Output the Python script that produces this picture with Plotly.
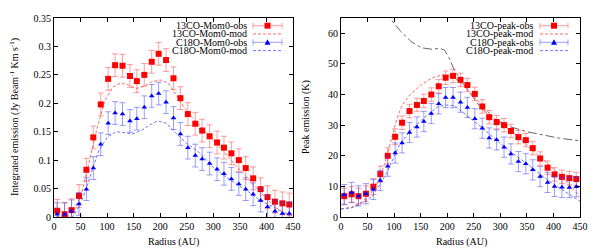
import plotly.graph_objects as go

# ---------------- data ----------------
radius = [6, 20, 33, 47, 61, 74, 88, 102, 115, 129, 143, 156, 170, 184, 197, 211, 225,
          238, 252, 266, 279, 293, 307, 320, 334, 348, 361, 375, 389, 402, 416, 430, 443]

co13_mom0_obs = [0.011, 0.005, 0.012, 0.037, 0.083, 0.140, 0.198, 0.243, 0.267, 0.266, 0.248,
                 0.239, 0.250, 0.273, 0.287, 0.276, 0.244, 0.209, 0.181, 0.164, 0.152, 0.142,
                 0.131, 0.122, 0.112, 0.100, 0.086, 0.068, 0.049, 0.035, 0.027, 0.024, 0.022]
co13_mom0_err = [0.02] * 33
c18o_mom0_obs = [0.005, 0.005, 0.010, 0.023, 0.049, 0.086, 0.128, 0.165, 0.183, 0.181, 0.169,
                 0.173, 0.193, 0.213, 0.217, 0.202, 0.174, 0.146, 0.122, 0.108, 0.102, 0.094,
                 0.084, 0.076, 0.067, 0.058, 0.049, 0.040, 0.029, 0.018, 0.010, 0.006, 0.006]
c18o_mom0_err = [0.02] * 33

mod13_mom0_r = [5, 22, 35, 50, 65, 80, 95, 110, 125, 140, 155, 170, 185, 200, 215, 230, 245,
                260, 280, 300, 320, 340, 360, 380, 400, 420, 440, 450]
mod13_mom0 = [0.0, 0.0, 0.008, 0.035, 0.092, 0.152, 0.203, 0.228, 0.236, 0.232, 0.226, 0.230,
              0.238, 0.241, 0.236, 0.215, 0.193, 0.175, 0.155, 0.135, 0.115, 0.093, 0.073,
              0.052, 0.032, 0.015, 0.005, 0.002]
mod18_mom0_r = [5, 35, 48, 60, 72, 85, 101, 117, 135, 148, 164, 180, 195, 211, 230, 249, 274,
                299, 330, 362, 390, 413, 430, 445]
mod18_mom0 = [0.0, 0.0, 0.02, 0.047, 0.083, 0.118, 0.141, 0.150, 0.148, 0.146, 0.152, 0.162,
              0.169, 0.165, 0.147, 0.130, 0.113, 0.088, 0.066, 0.047, 0.028, 0.018, 0.008, 0.002]

co13_peak_obs = [6.8, 7.4, 6.8, 7.6, 9.9, 14.0, 20.0, 26.2, 30.8, 34.6, 36.6, 37.9, 40.0, 42.7,
                 45.5, 46.1, 44.8, 43.1, 40.2, 36.1, 32.6, 31.0, 30.0, 28.1, 26.1, 25.1, 22.5,
                 19.1, 16.1, 13.9, 13.1, 12.7, 12.4]
co13_peak_err = [2.6] * 8 + [2.2] * 25
c18o_peak_obs = [7.3, 8.0, 6.9, 7.6, 9.0, 11.9, 16.6, 20.9, 24.2, 27.6, 29.4, 31.2, 33.8, 37.0,
                 39.0, 39.0, 37.5, 35.8, 32.1, 29.0, 25.8, 25.2, 22.8, 20.6, 18.1, 17.4, 15.4,
                 13.2, 11.3, 10.0, 9.7, 9.6, 9.9]
c18o_peak_err = [3.3] * 33

mod13_peak_r = [0, 20, 40, 55, 65, 75, 85, 95, 105, 115, 130, 150, 170, 190, 200, 215, 230,
                250, 270, 290, 318, 350, 381, 412, 435, 450]
mod13_peak = [2.6, 3.2, 5.0, 7.5, 10.0, 13.5, 19.0, 26.0, 32.0, 36.5, 40.0, 43.0, 45.3, 46.4,
              46.4, 45.3, 43.0, 39.5, 35.5, 32.0, 28.5, 23.5, 18.7, 13.8, 9.5, 6.7]
mod18_peak_r = [0, 20, 34, 59, 85, 100, 110, 132, 157, 182, 198, 214, 232, 251, 267, 300, 330,
                360, 390, 420, 450]
mod18_peak = [2.6, 3.0, 4.0, 6.7, 14.0, 20.0, 23.5, 28.5, 32.5, 36.0, 36.6, 36.3, 33.9, 31.2,
              29.0, 24.0, 20.0, 16.0, 12.0, 8.5, 5.1]

extra_r = [85, 92, 113, 132, 151, 170, 186, 195, 204, 212, 224, 245, 264, 286, 318, 349, 381,
           412, 450]
extra_peak = [67.5, 65.0, 60.5, 57.3, 55.3, 54.8, 55.1, 54.5, 51.8, 48.5, 45.0, 40.2, 35.5,
              32.3, 29.5, 27.9, 26.8, 25.7, 24.9]

left_xticks = [0, 50, 100, 150, 200, 250, 300, 350, 400, 450]
left_yticks = [0, 0.05, 0.1, 0.15, 0.2, 0.25, 0.3, 0.35]
right_yticks = [0, 10, 20, 30, 40, 50, 60]

legend_left = ["13CO-Mom0-obs", "13CO-Mom0-mod", "C18O-Mom0-obs", "C18O-Mom0-mod"]
legend_right = ["13CO-peak-obs", "13CO-peak-mod", "C18O-peak-obs", "C18O-peak-mod"]

# ---------------- style ----------------
OFF = 8                      # default page body margin
W, H = 598 - OFF, 250 - OFF
RED = "#ff0000"
RED_ERR = "rgba(255,60,60,0.5)"
RED_MOD = "rgba(255,80,80,0.85)"
BLUE = "#0000ff"
BLUE_ERR = "rgba(60,60,255,0.5)"
BLUE_MOD = "rgba(90,90,255,0.85)"
GRAY = "#666666"
FONT = "Liberation Serif"
DASH = "3px,2px"

fig = go.Figure()

def obs(x, y, e, color, ecolor, symbol, size, xa, ya):
    fig.add_trace(go.Scatter(
        x=x, y=y, mode="markers", xaxis=xa, yaxis=ya,
        marker=dict(symbol=symbol, size=size, color=color, line=dict(width=0)),
        error_y=dict(type="data", array=e, visible=True, color=ecolor, thickness=1, width=3),
        showlegend=False))

def mod(x, y, color, xa, ya, dash=DASH):
    fig.add_trace(go.Scatter(
        x=x, y=y, mode="lines", xaxis=xa, yaxis=ya,
        line=dict(color=color, width=1, dash=dash), showlegend=False))

mod(mod13_mom0_r, mod13_mom0, RED_MOD, "x", "y")
mod(mod18_mom0_r, mod18_mom0, BLUE_MOD, "x", "y")
obs(radius, co13_mom0_obs, co13_mom0_err, RED, RED_ERR, "square", 6, "x", "y")
obs(radius, c18o_mom0_obs, c18o_mom0_err, BLUE, BLUE_ERR, "triangle-up", 5, "x", "y")

mod(extra_r, extra_peak, GRAY, "x2", "y2", dash="dashdot")
mod(mod13_peak_r, mod13_peak, RED_MOD, "x2", "y2")
mod(mod18_peak_r, mod18_peak, BLUE_MOD, "x2", "y2")
obs(radius, co13_peak_obs, co13_peak_err, RED, RED_ERR, "square", 6, "x2", "y2")
obs(radius, c18o_peak_obs, c18o_peak_err, BLUE, BLUE_ERR, "triangle-up", 5, "x2", "y2")

def px(x):
    return (x - OFF) / W

def py(y):
    return 1 - (y - OFF) / H

axis_common = dict(showline=True, linecolor="black", linewidth=1, mirror="ticks",
                   ticks="inside", ticklen=4, tickcolor="black", showgrid=False,
                   zeroline=False, tickfont=dict(family=FONT, size=10, color="black"),
                   automargin=False)

fig.update_layout(
    width=W, height=H, margin=dict(l=0, r=0, t=0, b=0),
    paper_bgcolor="white", plot_bgcolor="white",
    font=dict(family=FONT, size=10, color="black"),
    xaxis=dict(domain=[px(54), px(293)], range=[0, 450], tickvals=left_xticks, anchor="y",
               **axis_common),
    yaxis=dict(domain=[py(217), py(18)], range=[0, 0.35], tickvals=left_yticks, anchor="x",
               **axis_common),
    xaxis2=dict(domain=[px(341), px(580)], range=[0, 450], tickvals=left_xticks, anchor="y2",
                **axis_common),
    yaxis2=dict(domain=[py(217), py(18)], range=[0, 65], tickvals=right_yticks, anchor="x2",
                **axis_common),
)

ann = []
shapes = []
title_font = dict(family=FONT, size=10, color="black")
# axis titles
for cx in (173, 461):
    ann.append(dict(x=px(cx), y=py(242), xref="paper", yref="paper", text="Radius (AU)",
                    xanchor="center", yanchor="middle", showarrow=False, font=title_font))
ann.append(dict(x=px(15), y=py(117), xref="paper", yref="paper", textangle=-90,
                xanchor="center", yanchor="middle",
                text="Integrated emission (Jy Beam<sup>-1</sup> Km s<sup>-1</sup>)",
                showarrow=False, font=title_font))
ann.append(dict(x=px(306), y=py(117), xref="paper", yref="paper", textangle=-90,
                xanchor="center", yanchor="middle",
                text="Peak emission (K)", showarrow=False, font=title_font))

# custom gnuplot-like legends
rows = [25.7, 34.0, 42.3, 50.6]

def legend(labels, text_right, s0, s1):
    styles = [("obs", RED, RED_ERR, "square"), ("mod", RED_MOD, None, None),
              ("obs", BLUE, BLUE_ERR, "tri"), ("mod", BLUE_MOD, None, None)]
    for lab, yy, st in zip(labels, rows, styles):
        ann.append(dict(x=px(text_right), y=py(yy), xref="paper", yref="paper", text=lab,
                        xanchor="right", yanchor="middle", showarrow=False, font=title_font))
        kind, col, ecol, sym = st
        if kind == "mod":
            shapes.append(dict(type="line", xref="paper", yref="paper", x0=px(s0), x1=px(s1),
                               y0=py(yy), y1=py(yy), line=dict(color=col, width=1, dash=DASH)))
        else:
            shapes.append(dict(type="line", xref="paper", yref="paper", x0=px(s0), x1=px(s1),
                               y0=py(yy), y1=py(yy), line=dict(color=ecol, width=1)))
            for sx in (s0, s1):
                shapes.append(dict(type="line", xref="paper", yref="paper", x0=px(sx),
                                   x1=px(sx), y0=py(yy - 3), y1=py(yy + 3),
                                   line=dict(color=ecol, width=1)))
            cx = (s0 + s1) / 2
            if sym == "square":
                shapes.append(dict(type="rect", xref="paper", yref="paper", x0=px(cx - 3),
                                   x1=px(cx + 3), y0=py(yy + 3), y1=py(yy - 3),
                                   fillcolor=col, line=dict(width=0)))
            else:
                path = "M {} {} L {} {} L {} {} Z".format(px(cx - 3), py(yy + 2.5),
                                                         px(cx + 3), py(yy + 2.5),
                                                         px(cx), py(yy - 3))
                shapes.append(dict(type="path", xref="paper", yref="paper", path=path,
                                   fillcolor=col, line=dict(width=0)))

legend(legend_left, 249, 253, 282)
legend(legend_right, 535, 540, 568)

fig.update_layout(annotations=ann, shapes=shapes)
fig.write_html("out.html")
